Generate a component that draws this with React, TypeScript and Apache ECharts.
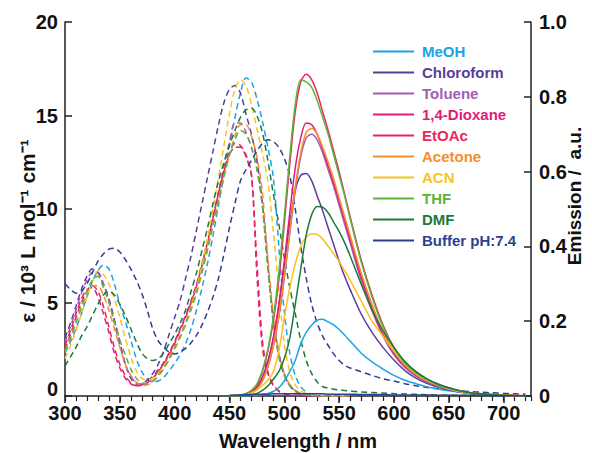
import React, { useEffect, useRef } from "react";
import * as echarts from "echarts";

const SOLVENTS = ["MeOH", "Chloroform", "Toluene", "1,4-Dioxane", "EtOAc", "Acetone", "ACN", "THF", "DMF", "Buffer pH:7.4"];
const COLORS = ["#1aa3e6", "#5b3c9c", "#a55cb6", "#e01c78", "#e9265c", "#f78c2c", "#fcc21a", "#5db33c", "#1b7a3b", "#2e3f92"];

const X_TICKS = [300, 350, 400, 450, 500, 550, 600, 650, 700];
const LEFT_TICKS = [0, 5, 10, 15, 20];
const RIGHT_TICKS = [0, 0.2, 0.4, 0.6, 0.8, 1.0];

// Absorption wavelength grid (nm)
const ABS_NM = [300, 305, 310, 315, 320, 325, 330, 335, 340, 345, 350, 355, 360, 365, 370, 375, 380, 385, 390, 395, 400, 405, 410, 415, 420, 425, 430, 435, 440, 445, 450, 455, 460, 465, 470, 475, 480, 485, 490, 495, 500, 505, 510, 515, 520, 525, 530, 535, 540, 545, 550, 555, 560];
const ABS_TAIL_NM = [570, 580, 590, 600, 610, 620, 630, 640, 650, 660, 670, 680, 690, 700, 710, 720];

// Absorption (epsilon / 10^3 L mol-1 cm-1)
const MEOH_ABS = [2.3, 2.9, 3.6, 4.4, 5.3, 6.1, 6.7, 7.0, 6.8, 6.0, 4.9, 4.0, 3.0, 2.0, 1.3, 0.9, 0.75, 0.8, 1.0, 1.35, 1.75, 2.2, 2.8, 3.6, 4.6, 5.8, 7.1, 8.6, 10.2, 11.8, 13.4, 14.9, 16.2, 17.0, 16.8, 15.9, 14.7, 13.3, 11.7, 8.0, 4.5, 2.3, 1.1, 0.5, 0.22, 0.1, 0.05, 0.03, 0.02, 0.01, 0.01, 0.01, 0.01];
const CHLOROFORM_ABS = [3.1, 3.9, 4.8, 5.7, 6.4, 6.8, 6.6, 6.0, 5.2, 4.1, 2.9, 1.7, 0.95, 0.64, 0.65, 0.85, 1.2, 1.7, 2.4, 3.3, 4.2, 5.1, 6.3, 7.5, 8.9, 10.3, 11.7, 13.1, 14.5, 15.7, 16.4, 16.6, 16.2, 15.1, 14.0, 12.6, 10.3, 7.0, 4.0, 2.2, 1.1, 0.55, 0.25, 0.1, 0.05, 0.03, 0.02, 0.02, 0.01, 0.01, 0.01, 0.01, 0.01];
const TOLUENE_ABS = [2.9, 3.7, 4.6, 5.5, 6.2, 6.6, 6.6, 6.0, 5.1, 3.9, 2.7, 1.7, 1.05, 0.7, 0.62, 0.72, 0.95, 1.3, 1.75, 2.3, 2.9, 3.6, 4.3, 5.0, 5.9, 7.0, 8.3, 9.6, 10.9, 12.3, 13.6, 14.6, 14.6, 14.1, 13.3, 12.2, 10.3, 7.1, 4.2, 2.3, 1.2, 0.6, 0.3, 0.13, 0.06, 0.03, 0.02, 0.01, 0.01, 0.01, 0.01, 0.01, 0.01];
const DIOXANE_ABS = [2.7, 3.5, 4.4, 5.2, 5.7, 5.8, 5.3, 4.4, 3.4, 2.3, 1.5, 0.95, 0.65, 0.55, 0.6, 0.8, 1.05, 1.4, 1.8, 2.3, 2.9, 3.6, 4.3, 5.1, 6.0, 7.1, 8.3, 9.6, 10.9, 12.1, 13.0, 13.5, 13.4, 12.9, 11.9, 6.5, 2.6, 1.2, 0.55, 0.25, 0.12, 0.06, 0.03, 0.02, 0.01, 0.01, 0.01, 0.01, 0.01, 0.01, 0.01, 0.01, 0.01];
const ETOAC_ABS = [2.5, 3.3, 4.2, 5.0, 5.6, 5.9, 5.6, 4.8, 3.7, 2.6, 1.7, 1.1, 0.7, 0.55, 0.55, 0.7, 0.95, 1.3, 1.7, 2.2, 2.8, 3.5, 4.2, 5.0, 5.9, 7.0, 8.2, 9.5, 10.8, 12.0, 12.9, 13.3, 13.3, 12.8, 11.8, 7.2, 3.0, 1.3, 0.6, 0.28, 0.13, 0.06, 0.03, 0.02, 0.01, 0.01, 0.01, 0.01, 0.01, 0.01, 0.01, 0.01, 0.01];
const ACETONE_ABS = [2.4, 3.1, 3.9, 4.7, 5.4, 5.9, 5.9, 5.4, 4.6, 3.6, 2.6, 1.7, 1.1, 0.75, 0.58, 0.6, 0.75, 1.05, 1.45, 1.95, 2.5, 3.1, 3.8, 4.6, 5.5, 6.6, 7.8, 9.1, 10.4, 11.7, 12.9, 13.9, 14.5, 14.5, 13.9, 12.8, 10.9, 7.4, 4.4, 2.3, 1.2, 0.6, 0.3, 0.14, 0.07, 0.04, 0.02, 0.01, 0.01, 0.01, 0.01, 0.01, 0.01];
const ACN_ABS = [2.0, 2.7, 3.5, 4.4, 5.3, 6.1, 6.7, 6.5, 6.0, 5.2, 4.2, 3.1, 2.1, 1.35, 0.95, 0.85, 0.95, 1.2, 1.6, 2.05, 2.6, 3.2, 3.9, 4.8, 5.8, 7.0, 8.4, 10.0, 11.7, 13.4, 15.1, 16.4, 16.9, 16.6, 15.6, 14.3, 13.0, 11.5, 8.8, 5.7, 2.8, 1.3, 0.6, 0.27, 0.13, 0.06, 0.03, 0.02, 0.01, 0.01, 0.01, 0.01, 0.01];
const THF_ABS = [2.4, 3.1, 3.9, 4.8, 5.6, 6.2, 6.4, 5.8, 5.0, 4.0, 3.0, 2.2, 1.45, 0.95, 0.7, 0.65, 0.8, 1.1, 1.5, 2.0, 2.6, 3.2, 3.9, 4.7, 5.6, 6.7, 7.9, 9.2, 10.5, 11.8, 12.9, 13.7, 14.2, 14.0, 13.3, 12.1, 10.1, 6.8, 3.9, 2.1, 1.1, 0.55, 0.27, 0.13, 0.06, 0.03, 0.02, 0.01, 0.01, 0.01, 0.01, 0.01, 0.01];
const DMF_ABS = [1.6, 2.1, 2.6, 3.2, 3.7, 4.3, 4.9, 5.4, 5.6, 5.4, 4.9, 4.3, 3.6, 2.9, 2.3, 2.0, 1.9, 2.0, 2.3, 2.8, 3.3, 3.9, 4.6, 5.6, 6.6, 7.8, 9.0, 10.3, 11.5, 12.5, 13.4, 14.2, 14.9, 15.3, 15.4, 15.0, 14.1, 12.6, 10.8, 9.2, 7.4, 5.8, 4.4, 3.0, 1.9, 1.2, 0.75, 0.5, 0.42, 0.36, 0.32, 0.29, 0.26];
const DMF_ABS_TAIL = [0.22, 0.19, 0.16, 0.13, 0.11, 0.09, 0.07, 0.05, 0.04, 0.03, 0.02, 0.02, 0.01, 0.01, 0.01, 0.01];
const BUFFER_ABS = [6.0, 5.7, 5.5, 5.6, 6.0, 6.6, 7.2, 7.6, 7.85, 7.9, 7.7, 7.3, 6.8, 6.2, 5.5, 4.6, 3.6, 2.95, 2.6, 2.35, 2.25, 2.35, 2.55, 2.85, 3.25, 3.8, 4.5, 5.3, 6.3, 7.6, 9.0, 10.3, 11.5, 12.1, 12.6, 13.1, 13.5, 13.7, 13.6, 13.3, 12.7, 11.8, 10.0, 8.0, 6.3, 4.9, 3.9, 3.2, 2.7, 2.25, 1.9, 1.65, 1.5];
const BUFFER_ABS_TAIL = [1.3, 1.1, 0.92, 0.8, 0.66, 0.55, 0.46, 0.39, 0.33, 0.28, 0.24, 0.2, 0.17, 0.14, 0.12, 0.1];

// Emission wavelength grid (nm)
const EM_NM = [450, 455, 460, 465, 470, 475, 480, 485, 490, 495, 500, 505, 510, 515, 520, 525, 530, 535, 540, 545, 550, 555, 560, 570, 580, 590, 600, 610, 620, 630, 640, 650, 660, 670, 680, 690, 700, 710, 720];

// Emission (a.u.)
const MEOH_EM = [0, 0, 0, 0, 0.001, 0.002, 0.004, 0.007, 0.012, 0.022, 0.04, 0.065, 0.095, 0.14, 0.17, 0.19, 0.203, 0.205, 0.198, 0.19, 0.178, 0.163, 0.147, 0.115, 0.091, 0.072, 0.055, 0.042, 0.033, 0.025, 0.019, 0.014, 0.01, 0.007, 0.005, 0.003, 0.002, 0.001, 0];
const CHLOROFORM_EM = [0, 0, 0.002, 0.005, 0.011, 0.024, 0.05, 0.093, 0.155, 0.24, 0.35, 0.46, 0.55, 0.59, 0.595, 0.575, 0.535, 0.495, 0.45, 0.405, 0.36, 0.32, 0.285, 0.22, 0.17, 0.13, 0.096, 0.068, 0.048, 0.034, 0.024, 0.016, 0.011, 0.007, 0.004, 0.003, 0.002, 0.001, 0];
const TOLUENE_EM = [0, 0, 0.001, 0.003, 0.008, 0.018, 0.04, 0.077, 0.133, 0.21, 0.315, 0.435, 0.55, 0.64, 0.69, 0.7, 0.685, 0.65, 0.605, 0.56, 0.51, 0.46, 0.41, 0.31, 0.228, 0.16, 0.11, 0.076, 0.053, 0.037, 0.026, 0.017, 0.011, 0.007, 0.004, 0.003, 0.002, 0.001, 0];
const DIOXANE_EM = [0, 0, 0.001, 0.004, 0.01, 0.022, 0.048, 0.09, 0.155, 0.245, 0.36, 0.49, 0.61, 0.69, 0.73, 0.725, 0.7, 0.66, 0.615, 0.57, 0.52, 0.47, 0.42, 0.32, 0.235, 0.165, 0.115, 0.08, 0.056, 0.04, 0.028, 0.019, 0.012, 0.008, 0.005, 0.003, 0.002, 0.001, 0];
const ETOAC_EM = [0, 0, 0.002, 0.006, 0.014, 0.03, 0.065, 0.12, 0.2, 0.31, 0.46, 0.62, 0.76, 0.84, 0.86, 0.845, 0.81, 0.76, 0.71, 0.655, 0.6, 0.54, 0.48, 0.365, 0.27, 0.19, 0.13, 0.09, 0.065, 0.046, 0.032, 0.022, 0.014, 0.009, 0.006, 0.004, 0.003, 0.002, 0.001];
const ACETONE_EM = [0, 0, 0.001, 0.003, 0.008, 0.018, 0.04, 0.078, 0.135, 0.215, 0.32, 0.44, 0.56, 0.65, 0.705, 0.715, 0.7, 0.665, 0.625, 0.58, 0.53, 0.48, 0.43, 0.33, 0.245, 0.172, 0.12, 0.083, 0.058, 0.041, 0.029, 0.019, 0.012, 0.008, 0.005, 0.003, 0.002, 0.001, 0];
const ACN_EM = [0, 0, 0.001, 0.003, 0.008, 0.016, 0.028, 0.042, 0.065, 0.12, 0.21, 0.29, 0.354, 0.4, 0.425, 0.434, 0.432, 0.42, 0.4, 0.38, 0.36, 0.335, 0.31, 0.255, 0.2, 0.16, 0.12, 0.086, 0.06, 0.042, 0.029, 0.019, 0.012, 0.008, 0.005, 0.003, 0.002, 0.001, 0];
const THF_EM = [0, 0.001, 0.003, 0.007, 0.015, 0.032, 0.068, 0.125, 0.21, 0.33, 0.48, 0.64, 0.78, 0.845, 0.84, 0.825, 0.79, 0.745, 0.7, 0.645, 0.59, 0.535, 0.475, 0.36, 0.265, 0.185, 0.128, 0.088, 0.062, 0.044, 0.03, 0.02, 0.013, 0.008, 0.005, 0.003, 0.002, 0.001, 0];
const DMF_EM = [0, 0, 0, 0.001, 0.003, 0.007, 0.015, 0.027, 0.045, 0.065, 0.1, 0.155, 0.245, 0.34, 0.43, 0.485, 0.507, 0.505, 0.49, 0.465, 0.44, 0.41, 0.375, 0.3, 0.23, 0.175, 0.13, 0.092, 0.065, 0.046, 0.032, 0.022, 0.014, 0.009, 0.006, 0.004, 0.002, 0.001, 0];
const BUFFER_EM = [0.002, 0.003, 0.003, 0.004, 0.004, 0.005, 0.005, 0.005, 0.006, 0.006, 0.006, 0.006, 0.006, 0.006, 0.006, 0.006, 0.006, 0.006, 0.005, 0.005, 0.005, 0.005, 0.005, 0.004, 0.004, 0.004, 0.003, 0.003, 0.003, 0.003, 0.002, 0.002, 0.002, 0.002, 0.002, 0.001, 0.001, 0.001, 0.001];

const ABS_SETS = [
  MEOH_ABS,
  CHLOROFORM_ABS,
  TOLUENE_ABS,
  DIOXANE_ABS,
  ETOAC_ABS,
  ACETONE_ABS,
  ACN_ABS,
  THF_ABS,
  DMF_ABS.concat(DMF_ABS_TAIL),
  BUFFER_ABS.concat(BUFFER_ABS_TAIL),
];
const EM_SETS = [MEOH_EM, CHLOROFORM_EM, TOLUENE_EM, DIOXANE_EM, ETOAC_EM, ACETONE_EM, ACN_EM, THF_EM, DMF_EM, BUFFER_EM];

const FONT = "'Liberation Sans', Arial, Helvetica, sans-serif";

function pairs(xs: number[], ys: number[]) {
  return ys.map((y, i) => [xs[i], y]);
}

export default function App() {
  const ref = useRef<HTMLDivElement>(null);

  useEffect(() => {
    if (!ref.current) return;
    const chart = echarts.init(ref.current, undefined, { renderer: "svg" });
    const fullAbsNm = ABS_NM.concat(ABS_TAIL_NM);

    const absSeries = SOLVENTS.map((s, i) => ({
      name: s + " (abs)",
      type: "line",
      xAxisIndex: 0,
      yAxisIndex: 0,
      data: pairs(fullAbsNm, ABS_SETS[i]),
      symbol: "none",
      showSymbol: false,
      smooth: 0.3,
      silent: true,
      lineStyle: { color: COLORS[i], width: 1.5, type: [6, 4] },
      itemStyle: { color: COLORS[i] },
    }));
    const emSeries = SOLVENTS.map((s, i) => ({
      name: s,
      type: "line",
      xAxisIndex: 0,
      yAxisIndex: 1,
      data: pairs(EM_NM, EM_SETS[i]),
      symbol: "none",
      showSymbol: false,
      smooth: 0.3,
      silent: true,
      lineStyle: { color: COLORS[i], width: 1.5 },
      itemStyle: { color: COLORS[i] },
    }));

    const labelStyle = { fontSize: 20, fontWeight: "bold", color: "#111", fontFamily: FONT };
    const nameStyle = { fontSize: 20, fontWeight: "bold", color: "#111", fontFamily: FONT };
    const axisLine = { show: true, lineStyle: { color: "#222", width: 1.5 } };

    chart.setOption({
      animation: false,
      backgroundColor: "#ffffff",
      textStyle: { fontFamily: FONT },
      grid: { left: 65, right: 61, top: 22, bottom: 57, containLabel: false, outerBoundsMode: "none" },
      legend: {
        data: SOLVENTS.map((s, i) => ({ name: s, textStyle: { color: COLORS[i] } })),
        orient: "vertical",
        left: 373,
        top: 44,
        padding: 0,
        itemWidth: 41,
        itemHeight: 2,
        itemGap: 6,
        icon: "rect",
        selectedMode: false,
        textStyle: { fontSize: 15, fontWeight: "bold", fontFamily: FONT, padding: [0, 0, 0, 3] },
      },
      xAxis: [
        {
          type: "value",
          min: 300,
          max: 725,
          interval: 50,
          position: "bottom",
          name: "Wavelength / nm",
          nameLocation: "middle",
          nameGap: 35,
          nameMoveOverlap: false,
          nameTextStyle: nameStyle,
          axisLine,
          axisTick: { show: true, inside: false, length: 7, lineStyle: { color: "#222", width: 1.5 } },
          axisLabel: {
            ...labelStyle,
            margin: 7,
            showMaxLabel: false,
            formatter: (v: number) => (X_TICKS.indexOf(v) >= 0 ? String(v) : ""),
          },
          splitLine: { show: false },
        },
        {
          type: "value",
          min: 300,
          max: 725,
          interval: 10,
          position: "top",
          offset: -374,
          axisLine: { show: false },
          axisTick: { show: true, inside: true, length: 5, lineStyle: { color: "#222", width: 1.2 } },
          axisLabel: { show: false },
          splitLine: { show: false },
        },
      ],
      yAxis: [
        {
          type: "value",
          min: 0,
          max: 20,
          interval: 5,
          position: "left",
          name: "ε / 10³ L mol⁻¹ cm⁻¹",
          nameLocation: "middle",
          nameGap: 27,
          nameMoveOverlap: false,
          nameTextStyle: { ...nameStyle, fontSize: 21, padding: [0, 44, 0, 0] },
          axisLine,
          axisTick: { show: true, inside: true, length: 7, lineStyle: { color: "#222", width: 1.5 } },
          axisLabel: {
            ...labelStyle,
            margin: 7,
            formatter: (v: number) => {
              if (LEFT_TICKS.indexOf(v) < 0) return "";
              return v === 0 ? "{z|0}" : String(v);
            },
            rich: {
              z: { ...labelStyle, padding: [0, 0, 14, 0] },
            },
          },
          splitLine: { show: false },
        },
        {
          type: "value",
          min: 0,
          max: 1,
          interval: 0.2,
          position: "right",
          name: "Emission /  a.u.",
          nameLocation: "middle",
          nameGap: 34,
          nameMoveOverlap: false,
          nameTextStyle: { ...nameStyle, fontSize: 19, padding: [0, 0, 0, 26] },
          axisLine,
          axisTick: { show: true, inside: true, length: 7, lineStyle: { color: "#222", width: 1.5 } },
          axisLabel: {
            ...labelStyle,
            margin: 8,
            formatter: (v: number) => {
              const r = Math.round(v * 10) / 10;
              if (RIGHT_TICKS.indexOf(r) < 0) return "";
              return r === 0 ? "0" : r.toFixed(1);
            },
          },
          splitLine: { show: false },
        },
      ],
      series: [...absSeries, ...emSeries],
    });

    return () => chart.dispose();
  }, []);

  return (
    <div
      ref={ref}
      style={{ position: "fixed", left: 0, top: 0, width: 592, height: 453, background: "#fff" }}
    />
  );
}
